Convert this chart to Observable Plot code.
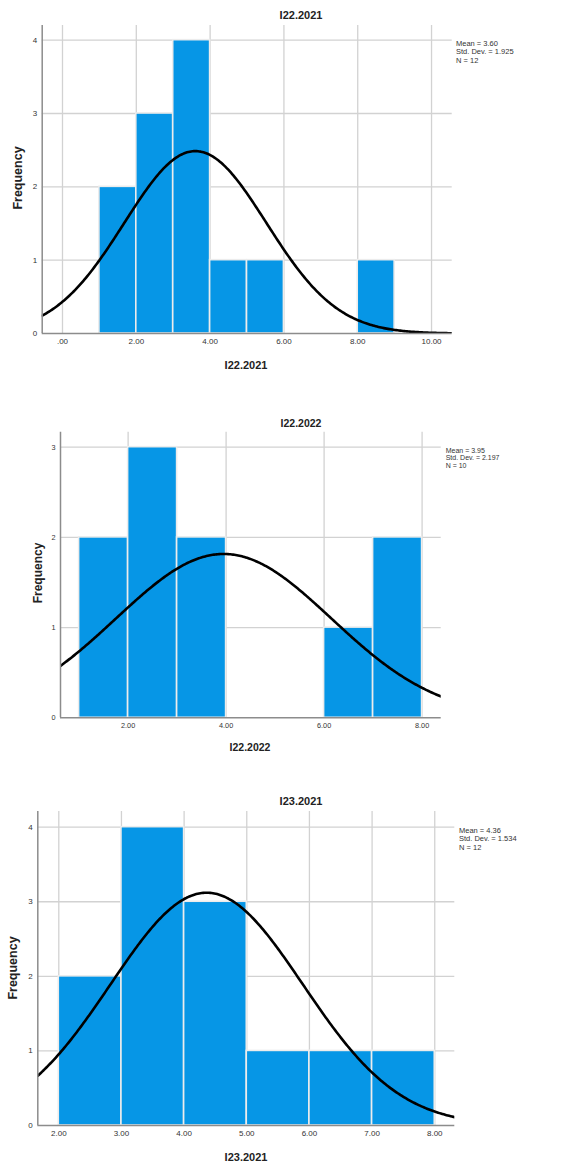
<!DOCTYPE html>
<html>
<head>
<meta charset="utf-8">
<script src="https://cdn.jsdelivr.net/npm/d3@7"></script>
<script src="https://cdn.jsdelivr.net/npm/@observablehq/plot@0.6"></script>
<style>
  body { margin: 0; background: white; }
  #wrap { position: relative; width: 564px; height: 1171px; overflow: hidden; font-family: "Liberation Sans", Arial, sans-serif; }
  .abs { position: absolute; white-space: nowrap; color: #222; }
  .title { font-weight: bold; transform: translate(-50%, -50%); }
  .xlab { font-weight: bold; transform: translate(-50%, -50%); }
  .ylab { font-weight: bold; transform: translate(-50%, -50%) rotate(-90deg); }
  .stats { color: #333; }
  svg { position: absolute; left: 0; }
</style>
</head>
<body>
<div id="wrap"></div>
<script>
// ---- Chart 1: I22.2021 ----
const c1Name = "I22.2021";
const c1BinStarts = [1, 2, 3, 4, 5, 8];
const c1Counts = [2, 3, 4, 1, 1, 1];
const c1Mean = 3.60, c1Sd = 1.925, c1N = 12;
const c1XTicks = [0, 2, 4, 6, 8, 10];
const c1YTicks = [0, 1, 2, 3, 4];

// ---- Chart 2: I22.2022 ----
const c2Name = "I22.2022";
const c2BinStarts = [1, 2, 3, 6, 7];
const c2Counts = [2, 3, 2, 1, 2];
const c2Mean = 3.95, c2Sd = 2.197, c2N = 10;
const c2XTicks = [2, 4, 6, 8];
const c2YTicks = [0, 1, 2, 3];

// ---- Chart 3: I23.2021 ----
const c3Name = "I23.2021";
const c3BinStarts = [2, 3, 4, 5, 6, 7];
const c3Counts = [2, 4, 3, 1, 1, 1];
const c3Mean = 4.36, c3Sd = 1.534, c3N = 12;
const c3XTicks = [2, 3, 4, 5, 6, 7, 8];
const c3YTicks = [0, 1, 2, 3, 4];

const wrap = document.getElementById("wrap");
const fmtX = d => d === 0 ? ".00" : d.toFixed(2);

function addText(cls, text, x, y, size, extra) {
  const el = document.createElement("div");
  el.className = "abs " + cls;
  el.style.left = x + "px";
  el.style.top = y + "px";
  el.style.fontSize = size + "px";
  if (extra) Object.assign(el.style, extra);
  el.innerHTML = text;
  wrap.appendChild(el);
}

function histogram(cfg) {
  const bars = cfg.bins.map((b, i) => ({x1: b, x2: b + 1, count: cfg.counts[i]}));
  const [x0, x1] = cfg.xDomain;
  const steps = 300;
  const curve = d3.range(steps + 1).map(i => {
    const x = x0 + (x1 - x0) * i / steps;
    const z = (x - cfg.mean) / cfg.sd;
    return {x, y: cfg.n * Math.exp(-0.5 * z * z) / (cfg.sd * Math.sqrt(2 * Math.PI))};
  });
  const grid = {stroke: "#d2d2d2", strokeOpacity: 1, strokeWidth: 1.3};
  const svg = Plot.plot({
    width: 564,
    height: cfg.height,
    marginLeft: cfg.ml, marginRight: cfg.mr, marginTop: cfg.mt, marginBottom: cfg.mb,
    style: {fontFamily: "'Liberation Sans', Arial, sans-serif", fontSize: cfg.fs + "px", color: "#333", background: "transparent"},
    x: {domain: cfg.xDomain},
    y: {domain: cfg.yDomain},
    marks: [
      Plot.gridX(cfg.xTicks, grid),
      Plot.gridY(cfg.yTicks.filter(d => d > 0), grid),
      Plot.rectY(bars, {x1: "x1", x2: "x2", y: "count", fill: "#0696e6", stroke: "#ececec", strokeWidth: 1.6}),
      Plot.line(curve, {x: "x", y: "y", stroke: "black", strokeWidth: 2.6, clip: true}),
      Plot.ruleX([x0], {stroke: "#8c8c8c", strokeWidth: 1.5}),
      Plot.ruleY([0], {stroke: "#8c8c8c", strokeWidth: 1.5}),
      Plot.axisX(cfg.xTicks, {tickSize: 0, tickPadding: 5, tickFormat: fmtX, label: null, fontSize: cfg.fs}),
      Plot.axisY(cfg.yTicks, {tickSize: 0, tickPadding: 5, tickFormat: "d", label: null, fontSize: cfg.fs})
    ]
  });
  svg.style.top = cfg.top + "px";
  wrap.appendChild(svg);

  addText("title", cfg.name, cfg.titleX, cfg.titleY, cfg.titleFs);
  addText("xlab", cfg.name, cfg.xlabX, cfg.xlabY, cfg.titleFs);
  addText("ylab", "Frequency", cfg.ylabX, cfg.ylabY, cfg.ylabFs);
  addText("stats",
    "Mean = " + cfg.mean.toFixed(2) + "<br>Std. Dev. = " + cfg.sd.toFixed(3) + "<br>N = " + cfg.n,
    cfg.statX, cfg.statY, cfg.statFs, {lineHeight: (cfg.statFs * 1.12) + "px"});
}

histogram({
  name: c1Name, bins: c1BinStarts, counts: c1Counts, mean: c1Mean, sd: c1Sd, n: c1N,
  xTicks: c1XTicks, yTicks: c1YTicks,
  top: 0, height: 380, ml: 41.7, mr: 112.3, mt: 25, mb: 47,
  xDomain: [-0.55, 10.56], yDomain: [0, 4.2], fs: 8,
  titleX: 301, titleY: 15, titleFs: 11,
  xlabX: 246, xlabY: 365, ylabX: 18, ylabY: 178, ylabFs: 12.5,
  statX: 456, statY: 40, statFs: 7.5
});

histogram({
  name: c2Name, bins: c2BinStarts, counts: c2Counts, mean: c2Mean, sd: c2Sd, n: c2N,
  xTicks: c2XTicks, yTicks: c2YTicks,
  top: 390, height: 380, ml: 60, mr: 123.3, mt: 41.7, mb: 52.7,
  xDomain: [0.62, 8.39], yDomain: [0, 3.166], fs: 7.3,
  titleX: 301, titleY: 423, titleFs: 10.5,
  xlabX: 250, xlabY: 747, ylabX: 38, ylabY: 573, ylabFs: 12,
  statX: 445.7, statY: 446.5, statFs: 7
});

histogram({
  name: c3Name, bins: c3BinStarts, counts: c3Counts, mean: c3Mean, sd: c3Sd, n: c3N,
  xTicks: c3XTicks, yTicks: c3YTicks,
  top: 780, height: 391, ml: 37.3, mr: 109.7, mt: 31, mb: 46,
  xDomain: [1.665, 8.32], yDomain: [0, 4.21], fs: 8,
  titleX: 301, titleY: 801, titleFs: 11,
  xlabX: 246, xlabY: 1157, ylabX: 13, ylabY: 968, ylabFs: 12.5,
  statX: 459, statY: 827, statFs: 7.5
});
</script>
</body>
</html>
